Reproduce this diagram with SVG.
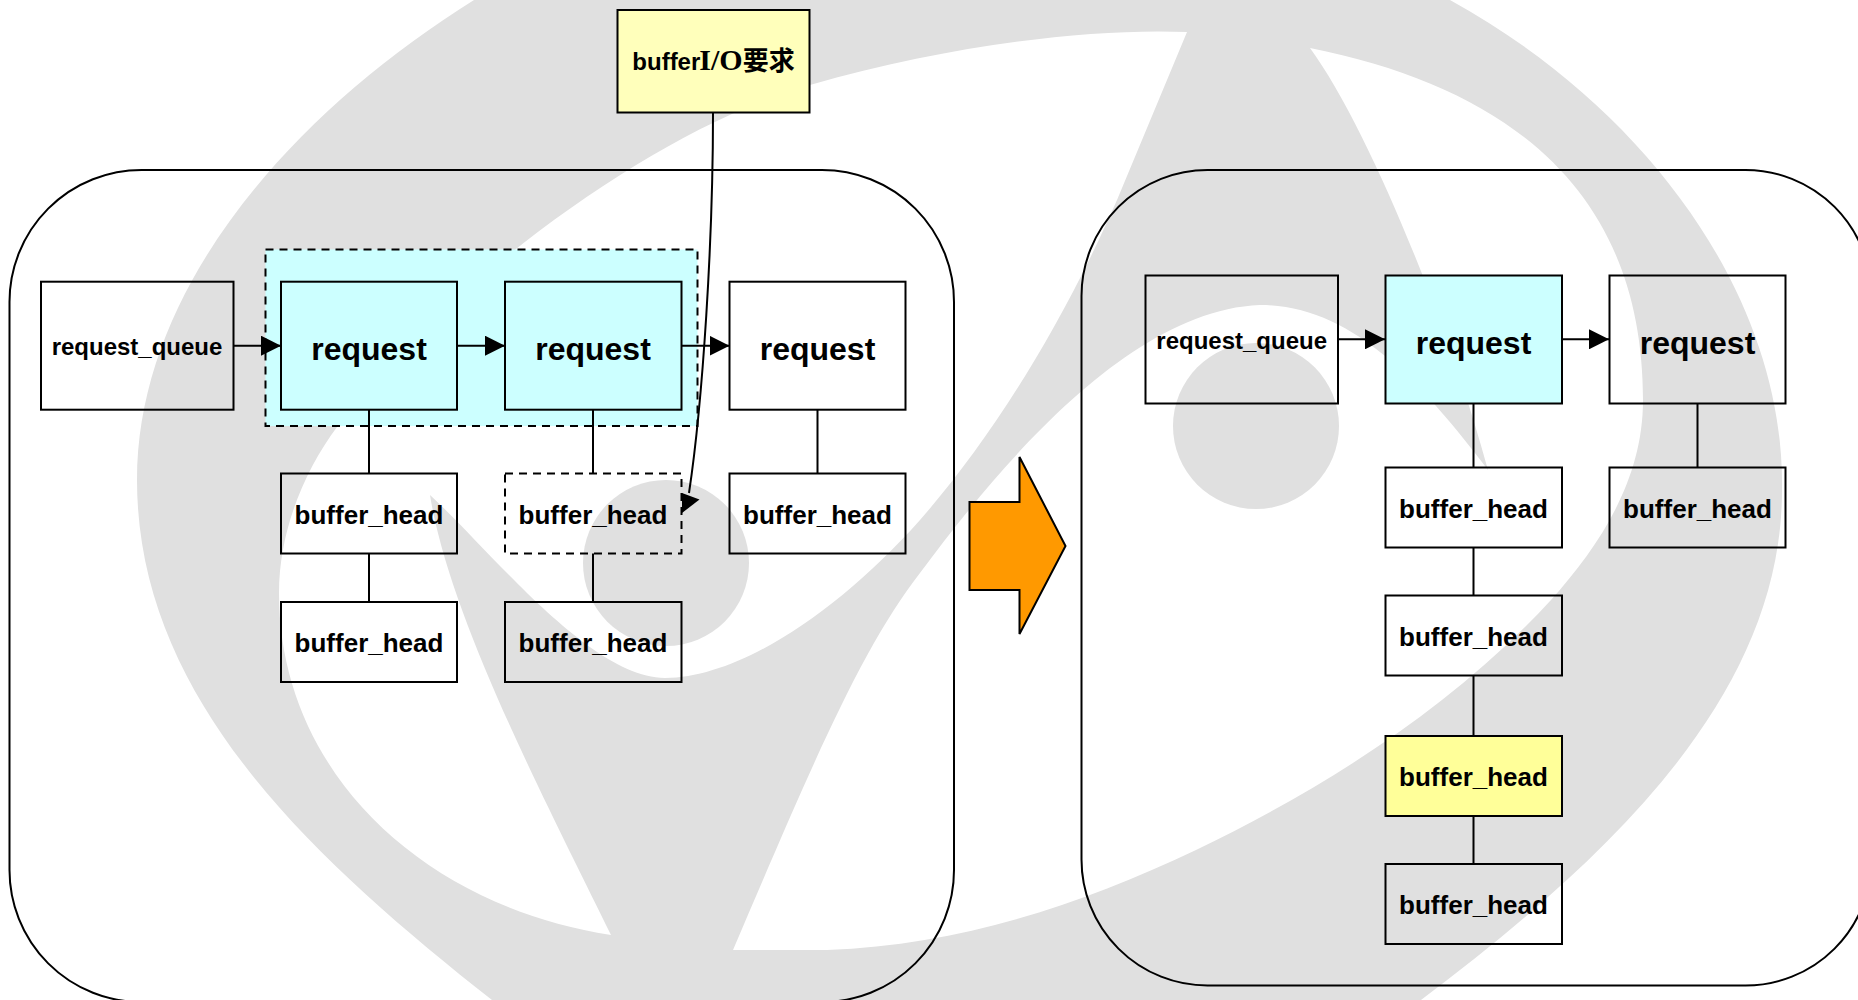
<svg xmlns="http://www.w3.org/2000/svg" width="1858" height="1000" viewBox="0 0 1858 1000">
  <style>
    .wm{fill:#e0e0e0}
    .wh{fill:#fff}
    .panel{fill:none;stroke:#000;stroke-width:2}
    .box{fill:none;stroke:#000;stroke-width:2}
    .dash{stroke-dasharray:8 6}
    .cy{fill:#ccffff}
    .ye{fill:#ffff99}
    .ly{fill:#ffffbb}
    .c{fill:none;stroke:#000;stroke-width:2}
    .ah{fill:#000}
    text{font-family:"Liberation Sans","Noto Sans CJK SC",sans-serif;font-weight:700;fill:#000;text-anchor:middle}
    .rq{font-size:32px}
    .bh{font-size:26px}
    .qu{font-size:24px}
  </style>
  <defs>
    <marker id="arrow" markerUnits="userSpaceOnUse" markerWidth="20" markerHeight="20" refX="20" refY="10" orient="auto">
      <path class="ah" d="M0,0L20,10L0,20Z"/>
    </marker>
  </defs>
  <rect width="1858" height="1000" fill="#fff"/>
  <g id="watermark">
    <path class="wm" d="M474,0C290,115 137,290 137,480C137,700 315,860 492,1000L1421,1000C1620,850 1782,690 1782,490C1785,300 1650,110 1450,0Z"/>
    <path class="wh" d="M1187,32C1090,28 950,45 810,85C650,130 440,290 337,427C305,470 279,530 279,593C279,770 420,905 611,935C550,810 450,620 430,495C490,550 590,678 665,678C740,678 840,610 920,520C990,440 1060,330 1117,200Z"/>
    <path class="wh" d="M733,950L827,950C960,945 1080,905 1196,850C1320,790 1450,710 1551,600C1600,545 1643,480 1643,400C1643,200 1520,90 1310,48C1370,130 1450,330 1488,470C1420,380 1350,305 1260,305C1130,310 1000,465 920,573C860,650 810,770 733,950Z"/>
    <circle class="wm" cx="666" cy="563" r="83"/>
    <circle class="wm" cx="1256" cy="426" r="83"/>
  </g>
  <g id="panels">
    <rect id="panel-left" class="panel" x="9.5" y="170" width="944.5" height="832" rx="132" ry="132"/>
    <rect id="panel-right" class="panel" x="1081.5" y="170" width="790" height="815.5" rx="126" ry="126"/>
    <rect id="merge-group" class="cy dash" stroke="#000" stroke-width="2" x="265.5" y="249.5" width="432" height="176.5"/>
  </g>
  <g id="connectors">
    <path class="c" marker-end="url(#arrow)" d="M233,345.7H281"/>
    <path class="c" marker-end="url(#arrow)" d="M457,345.7H505"/>
    <path class="c" marker-end="url(#arrow)" d="M681.5,345.7H729.5"/>
    <path class="c" d="M369,410V473.5M369,553.5V602M593,410V473.5M593,553.5V602M817.5,410V473.5"/>
    <path class="c" d="M713,113C713,240 703,400 689,493"/>
    <polygon class="ah" points="682,493 699.5,499.5 682,513"/>
    <path class="c" marker-end="url(#arrow)" d="M1338,339.3H1385"/>
    <path class="c" marker-end="url(#arrow)" d="M1562,339.3H1609"/>
    <path class="c" d="M1473.5,403.5V467.5M1473.5,547.5V595.5M1473.5,675.5V736M1473.5,816V864M1697.5,403.5V467.5"/>
  </g>
  <g id="request-io"><rect class="box ly" x="617.5" y="10" width="192" height="102.5"/><text x="713.5" y="70"><tspan font-size="24">buffer</tspan><tspan font-size="30" font-family="Liberation Serif" dx="-1">I/O</tspan><tspan font-size="26">要求</tspan></text></g>
  <g id="l-queue"><rect class="box" x="41" y="281.7" width="192.5" height="128"/><text class="qu" x="137" y="354.7">request_queue</text></g>
  <g id="l-req1"><rect class="box cy" x="281" y="281.7" width="176" height="128"/><text class="rq" x="369" y="360">request</text></g>
  <g id="l-req2"><rect class="box cy" x="505" y="281.7" width="176.5" height="128"/><text class="rq" x="593" y="360">request</text></g>
  <g id="l-req3"><rect class="box" x="729.5" y="281.7" width="176" height="128"/><text class="rq" x="817.5" y="360">request</text></g>
  <g id="l-bh1"><rect class="box" x="281" y="473.5" width="176" height="80"/><text class="bh" x="369" y="523.5">buffer_head</text></g>
  <g id="l-bh2"><rect class="box" x="281" y="602" width="176" height="80"/><text class="bh" x="369" y="651.5">buffer_head</text></g>
  <g id="l-bh3"><rect class="box dash" x="505" y="473.5" width="176.5" height="80"/><text class="bh" x="593" y="523.5">buffer_head</text></g>
  <g id="l-bh4"><rect class="box" x="505" y="602" width="176.5" height="80"/><text class="bh" x="593" y="651.5">buffer_head</text></g>
  <g id="l-bh5"><rect class="box" x="729.5" y="473.5" width="176" height="80"/><text class="bh" x="817.5" y="523.5">buffer_head</text></g>
  <g id="big-arrow"><polygon points="969.5,502 1019.5,502 1019.5,457 1065.5,546 1019.5,634 1019.5,590 969.5,590" fill="#ff9900" stroke="#000" stroke-width="2"/></g>
  <g id="r-queue"><rect class="box" x="1145.5" y="275.5" width="192.5" height="128"/><text class="qu" x="1241.7" y="348.8">request_queue</text></g>
  <g id="r-req1"><rect class="box cy" x="1385.5" y="275.5" width="176.5" height="128"/><text class="rq" x="1473.5" y="354">request</text></g>
  <g id="r-req2"><rect class="box" x="1609.5" y="275.5" width="176" height="128"/><text class="rq" x="1697.5" y="354">request</text></g>
  <g id="r-bh1"><rect class="box" x="1385.5" y="467.5" width="176.5" height="80"/><text class="bh" x="1473.5" y="517.5">buffer_head</text></g>
  <g id="r-bh2"><rect class="box" x="1385.5" y="595.5" width="176.5" height="80"/><text class="bh" x="1473.5" y="645.5">buffer_head</text></g>
  <g id="r-bh3"><rect class="box ye" x="1385.5" y="736" width="176.5" height="80"/><text class="bh" x="1473.5" y="786">buffer_head</text></g>
  <g id="r-bh4"><rect class="box" x="1385.5" y="864" width="176.5" height="80"/><text class="bh" x="1473.5" y="914">buffer_head</text></g>
  <g id="r-bh5"><rect class="box" x="1609.5" y="467.5" width="176" height="80"/><text class="bh" x="1697.5" y="517.5">buffer_head</text></g>
</svg>
